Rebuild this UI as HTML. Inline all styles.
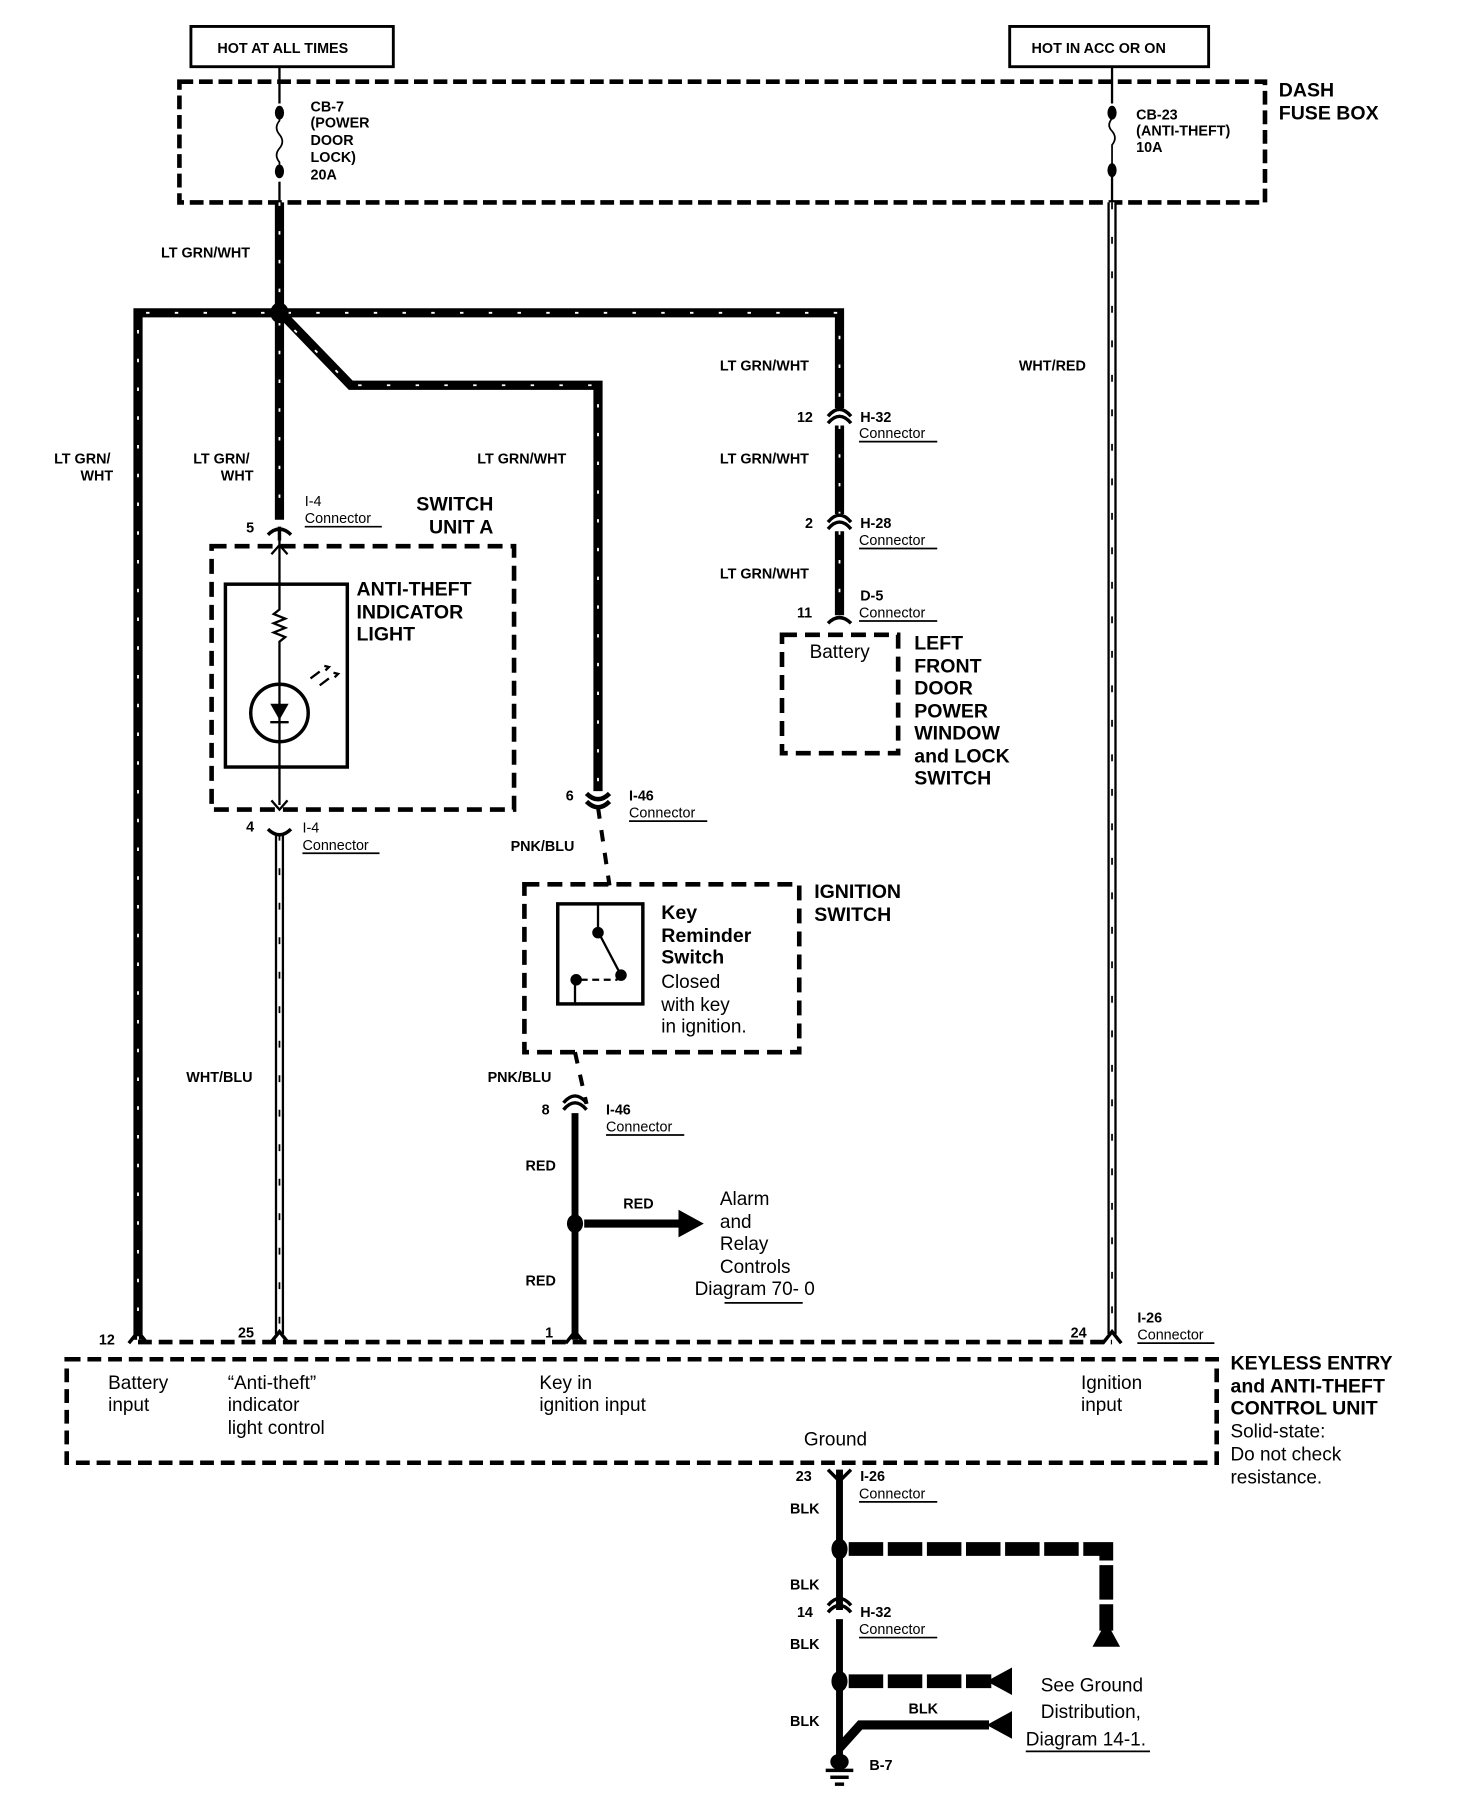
<!DOCTYPE html>
<html><head><meta charset="utf-8"><style>
html,body{margin:0;padding:0;background:#fff}
svg{display:block}
text{font-family:"Liberation Sans",sans-serif;fill:#000}
.s{font-size:12.5px;font-weight:bold}
.b{font-size:17px;font-weight:bold}
.n{font-size:16.5px}
.c{font-size:12.5px}
</style></head><body>
<svg width="1472" height="1802" viewBox="0 0 1280 1567" xmlns="http://www.w3.org/2000/svg">
<g fill="none" stroke="#000">
<rect x="166" y="23" width="176" height="35" stroke-width="2.5"/>
<rect x="878" y="23" width="173" height="35" stroke-width="2.5"/>
<rect x="156" y="71" width="944" height="105" stroke-width="4" stroke-dasharray="12 5"/>
<line x1="243" y1="58" x2="243" y2="90" stroke-width="2"/>
<line x1="243" y1="158" x2="243" y2="176" stroke-width="2"/>
<path d="M243 95 v10 q-5 6 0 12 q5 6 0 12 q-5 6 0 12 v6" stroke-width="1.5"/>
<line x1="967" y1="58" x2="967" y2="90" stroke-width="2"/>
<line x1="967" y1="152" x2="967" y2="176" stroke-width="2"/>
<path d="M967 95 v8 q-5 6 0 11 q5 6 0 12 v22" stroke-width="1.5"/>
</g>
<g fill="#000">
<ellipse cx="243" cy="98" rx="4" ry="6"/><ellipse cx="243" cy="149" rx="4" ry="6"/>
<ellipse cx="967" cy="98" rx="4" ry="6"/><ellipse cx="967" cy="148" rx="4" ry="6"/>
</g>
<g fill="none" stroke-linejoin="miter">
<path d="M243 176 V266 M120 1165 V272 H236 M250 272 H730 V355 M730 370 V447 M730 462 V535 M243 280 V452 M246 274 L305 335 H520 V688" stroke="#000" stroke-width="8"/>
<path d="M243 176 V266 M120 1165 V272 H236 M250 272 H730 V355 M730 370 V447 M730 462 V535 M243 280 V452 M256 287 L305 335 H520 V688" stroke="#fff" stroke-width="1.6" stroke-dasharray="3 22"/>
<path d="M967 176 V1160 M243 725 V1160" stroke="#000" stroke-width="8"/>
<path d="M967 176 V1160 M243 725 V1160" stroke="#fff" stroke-width="4"/>
<path d="M967 176 V1160 M243 725 V1160" stroke="#000" stroke-width="1.5" stroke-dasharray="6 24"/>
</g>
<ellipse cx="243" cy="272" rx="8" ry="9" fill="#000"/>
<g fill="none" stroke="#000" stroke-width="3">
<path d="M233 465 q10 -10 20 0 M243 458 v12"/>
<path d="M233 721 q10 10 20 0"/>
<path d="M720 368 q10 -12 20 0 M720 362 q10 -12 20 0"/>
<path d="M720 460 q10 -12 20 0 M720 454 q10 -12 20 0"/>
<path d="M720 542 q10 -10 20 0"/>
<path d="M510 690 q10 10 20 0 M510 697 q10 10 20 0" stroke-width="4"/>
<path d="M490 965 q10 -12 20 0 M490 959 q10 -12 20 0"/>
<path d="M112 1168 l8 -10 l8 10 M235 1168 l8 -10 l8 10 M492 1168 l8 -10 l8 10 M959 1168 l8 -10 l8 10"/>
<path d="M720 1278 l10 10 l10 -10"/>
<path d="M720 1402 q10 -12 20 0 M720 1396 q10 -12 20 0"/>
</g>
<rect x="184" y="475" width="263" height="229" fill="none" stroke="#000" stroke-width="4" stroke-dasharray="13 7"/>
<rect x="196" y="508" width="106" height="159" fill="none" stroke="#000" stroke-width="3"/>
<g stroke="#000" fill="none" stroke-width="2">
<path d="M243 470 V530 l-5 4 l10 4 l-10 4 l10 4 l-10 4 l10 4 l-5 4 V595 M243 645 V700"/>
<path d="M236 482 l7 -8 l7 8 M236 696 l7 8 l7 -8"/>
<circle cx="243" cy="620" r="25" stroke-width="3"/>
<line x1="243" y1="595" x2="243" y2="645"/>
<line x1="235" y1="628" x2="251" y2="628"/>
<path d="M270 590 l8 -6 M278 596 l8 -6 M283 583 l3 -3 l-4 -1 M291 589 l3 -3 l-4 -1"/>
</g>
<path d="M235 612 h16 l-8 14z" fill="#000"/>
<g fill="none" stroke="#000">
<path d="M520 702 L530 770 M500 915 L510 960" stroke-width="3.5" stroke-dasharray="10 10"/>
<rect x="456" y="769" width="239" height="146" stroke-width="4" stroke-dasharray="13 7"/>
<rect x="485" y="786" width="74" height="87" stroke-width="3"/>
<path d="M520 786 V810 L540 848 M500 848 V873" stroke-width="2"/>
<path d="M505 852 H537" stroke-width="2" stroke-dasharray="6 4"/>
</g>
<g fill="#000"><circle cx="520" cy="811" r="5"/><circle cx="540" cy="848" r="5"/><circle cx="501" cy="852" r="5"/></g>
<rect x="680" y="552" width="101" height="103" fill="none" stroke="#000" stroke-width="4" stroke-dasharray="13 7"/>
<g stroke="#000" fill="none">
<line x1="500" y1="968" x2="500" y2="1165" stroke-width="6"/>
<line x1="508" y1="1064" x2="592" y2="1064" stroke-width="7"/>
</g>
<ellipse cx="500" cy="1064" rx="7" ry="8" fill="#000"/>
<path d="M590 1052 L612 1064 L590 1076z" fill="#000"/>
<g fill="none" stroke="#000" stroke-width="4">
<path d="M120 1167 H967" stroke-dasharray="12 6"/>
<rect x="58" y="1182" width="1000" height="90" stroke-dasharray="12 6"/>
</g>
<g fill="none" stroke="#000">
<path d="M730 1278 V1400 M730 1408 V1530" stroke-width="6"/>
<path d="M730 1520 L748 1500 H860" stroke-width="8"/>
<path d="M738 1347 H962 V1418" stroke-width="12" stroke-dasharray="30 4"/>
<path d="M738 1462 H862" stroke-width="12" stroke-dasharray="30 4"/>
</g>
<g fill="#000">
<ellipse cx="730" cy="1347" rx="7" ry="9"/><ellipse cx="730" cy="1462" rx="7" ry="9"/>
<path d="M950 1432 L962 1410 L974 1432z"/>
<path d="M880 1450 L858 1462 L880 1474z"/>
<path d="M880 1488 L858 1500 L880 1512z"/>
<ellipse cx="730" cy="1532" rx="8" ry="7"/>
<rect x="718" y="1538" width="24" height="3"/><rect x="722" y="1544" width="16" height="3"/><rect x="726" y="1550" width="8" height="3"/>
</g>
<g stroke="#000" stroke-width="1.5">
<line x1="265" y1="458" x2="332" y2="458"/><line x1="263" y1="742" x2="330" y2="742"/>
<line x1="747" y1="384" x2="815" y2="384"/><line x1="747" y1="477" x2="815" y2="477"/>
<line x1="747" y1="540" x2="815" y2="540"/><line x1="547" y1="714" x2="615" y2="714"/>
<line x1="527" y1="987" x2="595" y2="987"/><line x1="989" y1="1168" x2="1056" y2="1168"/>
<line x1="747" y1="1306" x2="815" y2="1306"/><line x1="747" y1="1424" x2="815" y2="1424"/>
<line x1="630" y1="1133" x2="698" y2="1133"/><line x1="892" y1="1523" x2="1000" y2="1523"/>
</g>
<text class="s" x="189" y="46">HOT AT ALL TIMES</text>
<text class="s" x="897" y="46">HOT IN ACC OR ON</text>
<text class="b" x="1112" y="84">DASH</text><text class="b" x="1112" y="104">FUSE BOX</text>
<g class="s"><text x="270" y="97">CB-7</text><text x="270" y="111">(POWER</text><text x="270" y="126">DOOR</text><text x="270" y="141">LOCK)</text><text x="270" y="156">20A</text>
<text x="988" y="104">CB-23</text><text x="988" y="118">(ANTI-THEFT)</text><text x="988" y="132">10A</text>
<text x="140" y="224">LT GRN/WHT</text><text x="626" y="322">LT GRN/WHT</text><text x="886" y="322">WHT/RED</text>
<text x="47" y="403">LT GRN/</text><text x="70" y="418">WHT</text><text x="168" y="403">LT GRN/</text><text x="192" y="418">WHT</text>
<text x="415" y="403">LT GRN/WHT</text><text x="626" y="403">LT GRN/WHT</text><text x="626" y="503">LT GRN/WHT</text>
<text x="693" y="367">12</text><text x="748" y="367">H-32</text><text x="700" y="459">2</text><text x="748" y="459">H-28</text>
<text x="748" y="522">D-5</text><text x="693" y="537">11</text>
<text x="214" y="463">5</text><text x="214" y="723">4</text><text x="492" y="696">6</text><text x="547" y="696">I-46</text>
<text x="444" y="740">PNK/BLU</text><text x="424" y="941">PNK/BLU</text><text x="162" y="941">WHT/BLU</text>
<text x="471" y="969">8</text><text x="527" y="969">I-46</text>
<text x="457" y="1018">RED</text><text x="542" y="1051">RED</text><text x="457" y="1118">RED</text>
<text x="86" y="1169">12</text><text x="207" y="1163">25</text><text x="474" y="1163">1</text><text x="931" y="1163">24</text><text x="989" y="1150">I-26</text>
<text x="692" y="1288">23</text><text x="748" y="1288">I-26</text><text x="687" y="1316">BLK</text><text x="687" y="1382">BLK</text>
<text x="693" y="1406">14</text><text x="748" y="1406">H-32</text><text x="687" y="1434">BLK</text><text x="687" y="1501">BLK</text><text x="790" y="1490">BLK</text>
<text x="756" y="1539">B-7</text>
</g>
<g class="c"><text x="265" y="440">I-4</text><text x="265" y="455">Connector</text><text x="263" y="724">I-4</text><text x="263" y="739">Connector</text>
<text x="747" y="381">Connector</text><text x="747" y="474">Connector</text><text x="747" y="537">Connector</text><text x="547" y="711">Connector</text>
<text x="527" y="984">Connector</text><text x="989" y="1165">Connector</text><text x="747" y="1303">Connector</text><text x="747" y="1421">Connector</text></g>
<g class="b"><text x="362" y="444">SWITCH</text><text x="373" y="464">UNIT A</text>
<text x="310" y="518">ANTI-THEFT</text><text x="310" y="538">INDICATOR</text><text x="310" y="557">LIGHT</text>
<text x="795" y="565">LEFT</text><text x="795" y="585">FRONT</text><text x="795" y="604">DOOR</text><text x="795" y="624">POWER</text><text x="795" y="643">WINDOW</text><text x="795" y="663">and LOCK</text><text x="795" y="682">SWITCH</text>
<text x="708" y="781">IGNITION</text><text x="708" y="801">SWITCH</text>
<text x="575" y="799">Key</text><text x="575" y="819">Reminder</text><text x="575" y="838">Switch</text>
<text x="1070" y="1191">KEYLESS ENTRY</text><text x="1070" y="1211">and ANTI-THEFT</text><text x="1070" y="1230">CONTROL UNIT</text></g>
<g class="n"><text x="704" y="572">Battery</text>
<text x="575" y="859">Closed</text><text x="575" y="879">with key</text><text x="575" y="898">in ignition.</text>
<text x="626" y="1048">Alarm</text><text x="626" y="1068">and</text><text x="626" y="1087">Relay</text><text x="626" y="1107">Controls</text><text x="604" y="1126">Diagram 70- 0</text>
<text x="94" y="1208">Battery</text><text x="94" y="1227">input</text>
<text x="198" y="1208">“Anti-theft”</text><text x="198" y="1227">indicator</text><text x="198" y="1247">light control</text>
<text x="469" y="1208">Key in</text><text x="469" y="1227">ignition input</text>
<text x="940" y="1208">Ignition</text><text x="940" y="1227">input</text><text x="699" y="1257">Ground</text>
<text x="1070" y="1250">Solid-state:</text><text x="1070" y="1270">Do not check</text><text x="1070" y="1290">resistance.</text>
<text x="905" y="1471">See Ground</text><text x="905" y="1494">Distribution,</text><text x="892" y="1518">Diagram 14-1.</text></g>
</svg>
</body></html>
